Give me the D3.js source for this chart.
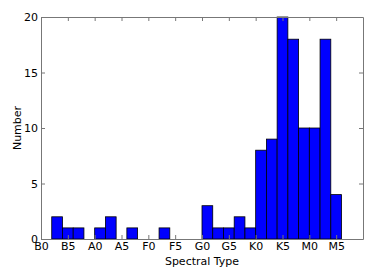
<!DOCTYPE html>
<html lang="en">
<head>
<meta charset="UTF-8">
<script src="https://d3js.org/d3.v7.min.js"></script>
<style>
  body { margin: 0; background: #fff; }
  svg text { font-family: "DejaVu Sans", sans-serif; fill: #000; }
</style>
</head>
<body>
<figure style="margin:0"></figure>
<script>
// spectral type tick labels, every 5 subtypes
const tickLabels = ["B0", "B5", "A0", "A5", "F0", "F5", "G0", "G5", "K0", "K5", "M0", "M5"];
// histogram bins: left edges (subtype index, B0 = 0) and counts
const binStarts = [2, 4, 6, 8, 10, 12, 14, 16, 18, 20, 22, 24, 26, 28, 30, 32, 34, 36, 38, 40, 42, 44, 46, 48, 50, 52, 54];
const counts    = [2, 1, 1, 0, 1, 2, 0, 1, 0, 0, 1, 0, 0, 0, 3, 1, 1, 2, 1, 8, 9, 20, 18, 10, 10, 18, 4];
const binWidth = 2;
const yTicks = [0, 5, 10, 15, 20];

const w = 374, h = 280;
const m = {left: 41, right: 11, top: 17, bottom: 41};

const xScale = d3.scaleLinear().domain([0, 60]).range([m.left, w - m.right]);
const yScale = d3.scaleLinear().domain([0, 20]).range([h - m.bottom, m.top]);

const svg = d3.select("figure").append("svg")
  .attr("width", w).attr("height", h);

// bars
svg.selectAll("rect.bar")
  .data(binStarts.map((s, i) => ({s: s, c: counts[i]})).filter(d => d.c > 0))
  .enter().append("rect")
  .attr("class", "bar")
  .attr("x", d => xScale(d.s))
  .attr("y", d => yScale(d.c))
  .attr("width", d => xScale(d.s + binWidth) - xScale(d.s))
  .attr("height", d => yScale(0) - yScale(d.c))
  .attr("fill", "#0000ff")
  .attr("stroke", "#000")
  .attr("stroke-width", 0.8);

const xt = tickLabels.map((t, i) => i * 5);

// axes, ticks inside like matplotlib classic
const xAxis = d3.axisBottom(xScale).tickValues(xt).tickFormat((d, i) => tickLabels[i])
  .tickSizeInner(-4).tickSizeOuter(0).tickPadding(3);
const xTop = d3.axisTop(xScale).tickValues(xt).tickFormat("")
  .tickSizeInner(-4).tickSizeOuter(0);
const yAxis = d3.axisLeft(yScale).tickValues(yTicks)
  .tickSizeInner(-4).tickSizeOuter(0).tickPadding(3);
const yRight = d3.axisRight(yScale).tickValues(yTicks).tickFormat("")
  .tickSizeInner(-4).tickSizeOuter(0);

svg.append("g").attr("transform", "translate(0," + (h - m.bottom) + ")").call(xAxis);
svg.append("g").attr("transform", "translate(0," + m.top + ")").call(xTop);
svg.append("g").attr("transform", "translate(" + m.left + ",0)").call(yAxis);
svg.append("g").attr("transform", "translate(" + (w - m.right) + ",0)").call(yRight);

svg.selectAll(".domain").attr("stroke", "#777");
svg.selectAll(".tick line").attr("stroke", "#777");
svg.selectAll(".tick text").style("font-size", "11px").style("font-family", "DejaVu Sans");

// labels
svg.append("text")
  .attr("x", (xScale(0) + xScale(60)) / 2)
  .attr("y", h - 15)
  .attr("text-anchor", "middle")
  .style("font-size", "11px")
  .text("Spectral Type");

svg.append("text")
  .attr("transform", "translate(21," + ((yScale(0) + yScale(20)) / 2) + ") rotate(-90)")
  .attr("text-anchor", "middle")
  .style("font-size", "11px")
  .text("Number");
</script>
</body>
</html>
